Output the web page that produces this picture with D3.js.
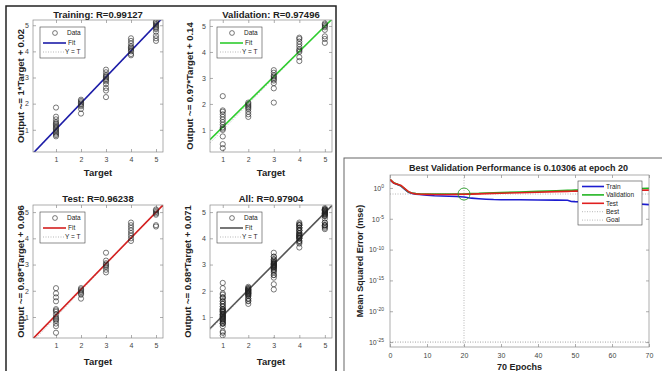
<!DOCTYPE html>
<html>
<head>
<meta charset="utf-8">
<script src="https://cdn.jsdelivr.net/npm/d3@7"></script>
<style>
  body { margin: 0; background: #fff; }
  svg { display: block; font-family: "Liberation Sans", Arial, sans-serif; }
</style>
</head>
<body>
<script>
// ---- data ----
const targets = [1, 2, 3, 4, 5];

// network outputs grouped by target value (one list per target)
const trainOut = [
  [0.75, 0.8, 0.85, 0.9, 0.95, 1.0, 1.05, 1.1, 1.15, 1.2, 1.25, 1.3, 1.4, 1.5, 1.85],
  [1.62, 1.8, 1.9, 1.95, 2.0, 2.05, 2.1, 2.15],
  [2.25, 2.5, 2.6, 2.75, 2.85, 2.9, 2.95, 3.0, 3.05, 3.1, 3.2, 3.3],
  [3.85, 3.9, 4.0, 4.05, 4.1, 4.15, 4.2, 4.3, 4.4, 4.5],
  [4.4, 4.5, 4.6, 4.75, 4.85, 4.9, 4.95, 5.0, 5.05, 5.1, 5.15]
];
const valOut = [
  [0.3, 0.45, 0.75, 1.0, 1.05, 1.1, 1.2, 1.3, 1.4, 1.5, 1.6, 1.7, 1.75, 2.3],
  [1.5, 1.6, 1.7, 1.8, 1.85, 1.9, 1.95, 2.0, 2.05],
  [2.05, 2.6, 2.8, 2.9, 2.95, 3.0, 3.05, 3.1, 3.2, 3.3],
  [3.65, 3.8, 4.0, 4.05, 4.1, 4.2, 4.3, 4.4, 4.5, 4.55],
  [4.35, 4.5, 4.6, 4.85, 4.95, 5.0, 5.05, 5.1]
];
const testOut = [
  [0.4, 0.65, 0.75, 0.85, 0.9, 0.95, 1.0, 1.1, 1.2, 1.25, 1.3, 1.6, 1.75, 1.9, 2.1],
  [1.7, 1.85, 1.9, 1.95, 2.0, 2.05, 2.1],
  [0.1, 2.7, 2.8, 2.9, 2.95, 3.0, 3.05, 3.15, 3.45],
  [3.9, 4.0, 4.1, 4.2, 4.3, 4.4, 4.5, 4.6],
  [4.45, 4.5, 4.9, 4.95, 5.0, 5.05, 5.1]
];
// "All" is the union of the three subsets
const allOut = targets.map((t, i) => trainOut[i].concat(valOut[i], testOut[i]));

const panelTitles = ["Training: R=0.99127", "Validation: R=0.97496", "Test: R=0.96238", "All: R=0.97904"];
const panelYLabels = ["Output ~= 1*Target + 0.02", "Output ~= 0.97*Target + 0.14",
                      "Output ~= 0.98*Target + 0.096", "Output ~= 0.98*Target + 0.071"];
const fitSlopes = [1, 0.97, 0.98, 0.98];
const fitIntercepts = [0.02, 0.14, 0.096, 0.071];

// performance curves (mse per epoch)
const epochs     = [0, 1, 2, 3, 4, 5, 6, 7, 8, 10, 12, 14, 16, 18, 20, 22, 24, 26, 28, 30, 35, 40, 45, 48, 49, 50, 55, 60, 65, 70];
const trainPerf  = [20, 6, 3.5, 2, 0.6, 0.2, 0.13, 0.1, 0.085, 0.065, 0.055, 0.05, 0.045, 0.04, 0.035, 0.022, 0.018, 0.015, 0.013, 0.012, 0.012, 0.011, 0.0105, 0.01, 0.0065, 0.006, 0.005, 0.004, 0.003, 0.002];
const valPerf    = [25, 7, 4, 2.2, 0.7, 0.22, 0.15, 0.12, 0.11, 0.1, 0.1, 0.1, 0.1, 0.1, 0.103, 0.12, 0.13, 0.15, 0.16, 0.18, 0.22, 0.28, 0.35, 0.4, 0.42, 0.45, 0.5, 0.6, 0.75, 0.9];
const testPerf   = [25, 6.5, 4, 2.5, 0.8, 0.25, 0.14, 0.11, 0.1, 0.09, 0.085, 0.085, 0.085, 0.09, 0.095, 0.1, 0.11, 0.12, 0.13, 0.14, 0.17, 0.2, 0.25, 0.28, 0.29, 0.3, 0.33, 0.38, 0.42, 0.45];
const bestEpoch = 20;
const bestPerf = 0.10306;
const goalPerf = 1e-25;
const perfTicks = [1, 1e-5, 1e-10, 1e-15, 1e-20, 1e-25];
const epochTicks = [0, 10, 20, 30, 40, 50, 60, 70];
const perfLegend = ["Train", "Validation", "Test", "Best", "Goal"];

// ---- layout ----
const WIDTH = 662, HEIGHT = 371;

let svg = d3.select("body").append("svg")
  .attr("width", WIDTH)
  .attr("height", HEIGHT);

svg.append("rect")
  .attr("width", WIDTH)
  .attr("height", HEIGHT)
  .attr("fill", "#fff");

// outer frames
svg.append("rect")
  .attr("x", 6).attr("y", 6)
  .attr("width", 330).attr("height", 380)
  .attr("fill", "none")
  .attr("stroke", "#222")
  .attr("stroke-width", 1.5);

svg.append("rect")
  .attr("x", 344).attr("y", 158)
  .attr("width", 340).attr("height", 240)
  .attr("fill", "none")
  .attr("stroke", "#666")
  .attr("stroke-width", 1);

let panels = [
  {x0: 33,  x1: 163, y0: 20,  y1: 152, xd: [0.08, 5.28], yd: [0.15, 5.2],  lx: 21,  ty: 18,  xl: 176, data: trainOut, color: "#1c1ca8"},
  {x0: 210, x1: 332, y0: 20,  y1: 152, xd: [0.5, 5.28],  yd: [0.15, 5.23], lx: 190, ty: 18,  xl: 176, data: valOut,   color: "#2ecc2e"},
  {x0: 33,  x1: 163, y0: 205, y1: 338, xd: [0.08, 5.28], yd: [0.2, 5.27],  lx: 21,  ty: 202, xl: 365, data: testOut,  color: "#d42020"},
  {x0: 210, x1: 332, y0: 205, y1: 338, xd: [0.5, 5.28],  yd: [0.2, 5.27],  lx: 188, ty: 202, xl: 365, data: allOut,   color: "#555555"}
];

panels.forEach((p, i) => drawRegression(p, i));
drawPerformance();

function drawRegression(p, i) {
  let x = d3.scaleLinear().domain(p.xd).range([p.x0, p.x1]);
  let y = d3.scaleLinear().domain(p.yd).range([p.y1, p.y0]);
  let fmt = d3.format("d");

  let g = svg.append("g").attr("class", "regPanel");

  g.append("clipPath")
    .attr("id", "clip" + i)
  .append("rect")
    .attr("x", p.x0).attr("y", p.y0)
    .attr("width", p.x1 - p.x0).attr("height", p.y1 - p.y0);

  g.append("rect")
    .attr("x", p.x0).attr("y", p.y0)
    .attr("width", p.x1 - p.x0).attr("height", p.y1 - p.y0)
    .attr("fill", "#fff");

  // axes (ticks pointing inwards, like matlab)
  g.append("g")
    .attr("transform", "translate(0," + p.y1 + ")")
    .call(d3.axisBottom(x).tickValues(targets).tickFormat(fmt).tickSizeInner(-3).tickSizeOuter(0).tickPadding(5));
  g.append("g")
    .attr("transform", "translate(0," + p.y0 + ")")
    .call(d3.axisTop(x).tickValues(targets).tickSizeInner(-3).tickSizeOuter(0).tickFormat(""));
  g.append("g")
    .attr("transform", "translate(" + p.x0 + ",0)")
    .call(d3.axisLeft(y).tickValues(targets).tickFormat(fmt).tickSizeInner(-3).tickSizeOuter(0).tickPadding(4));
  g.append("g")
    .attr("transform", "translate(" + p.x1 + ",0)")
    .call(d3.axisRight(y).tickValues(targets).tickSizeInner(-3).tickSizeOuter(0).tickFormat(""));

  g.selectAll(".domain").remove();
  g.selectAll(".tick line").attr("stroke", "#777").attr("stroke-width", 0.6);
  g.selectAll(".tick text").attr("fill", "#444").style("font-size", "7px");

  let plot = g.append("g").attr("clip-path", "url(#clip" + i + ")");

  // Y = T
  plot.append("line")
    .attr("x1", x(p.xd[0])).attr("y1", y(p.xd[0]))
    .attr("x2", x(p.xd[1])).attr("y2", y(p.xd[1]))
    .attr("stroke", "#888")
    .attr("stroke-width", 0.6)
    .attr("stroke-dasharray", "1,1.5");

  // fit line
  let fx = (v) => fitSlopes[i] * v + fitIntercepts[i];
  plot.append("line")
    .attr("x1", x(p.xd[0])).attr("y1", y(fx(p.xd[0])))
    .attr("x2", x(p.xd[1])).attr("y2", y(fx(p.xd[1])))
    .attr("stroke", p.color)
    .attr("stroke-width", 1.6);

  // data circles
  let pts = [];
  p.data.forEach((outs, k) => {
    outs.forEach(v => pts.push({t: targets[k], o: v}));
  });
  plot.selectAll(".pt")
    .data(pts)
  .enter().append("circle")
    .attr("class", "pt")
    .attr("cx", d => x(d.t))
    .attr("cy", d => y(d.o))
    .attr("r", 2.6)
    .attr("fill", "none")
    .attr("stroke", "#222")
    .attr("stroke-width", 0.6);

  g.append("rect")
    .attr("x", p.x0).attr("y", p.y0)
    .attr("width", p.x1 - p.x0).attr("height", p.y1 - p.y0)
    .attr("fill", "none")
    .attr("stroke", "#8a8a8a")
    .attr("stroke-width", 0.7);

  // legend
  let lg = g.append("g").attr("transform", "translate(" + (p.x0 + 7) + "," + (p.y0 + 7) + ")");
  lg.append("rect")
    .attr("width", 45).attr("height", 31)
    .attr("fill", "#fff")
    .attr("stroke", "#444")
    .attr("stroke-width", 0.6);
  lg.append("circle")
    .attr("cx", 15).attr("cy", 6).attr("r", 2.4)
    .attr("fill", "none").attr("stroke", "#222").attr("stroke-width", 0.6);
  lg.append("line")
    .attr("x1", 3).attr("x2", 26).attr("y1", 16).attr("y2", 16)
    .attr("stroke", p.color).attr("stroke-width", 1.6);
  lg.append("line")
    .attr("x1", 3).attr("x2", 24).attr("y1", 25).attr("y2", 25)
    .attr("stroke", "#888").attr("stroke-width", 0.6).attr("stroke-dasharray", "1,1.5");
  let legTxt = [["Data", 27, 8.3], ["Fit", 28, 18.3], ["Y = T", 25, 27.3]];
  legTxt.forEach(d => {
    lg.append("text")
      .attr("x", d[1]).attr("y", d[2])
      .style("font-size", "6.5px")
      .attr("fill", "#222")
      .text(d[0]);
  });

  // titles
  g.append("text")
    .attr("x", (p.x0 + p.x1) / 2).attr("y", p.ty)
    .attr("text-anchor", "middle")
    .style("font-size", "9.5px").style("font-weight", "bold")
    .attr("fill", "#222")
    .text(panelTitles[i]);

  g.append("text")
    .attr("x", (p.x0 + p.x1) / 2).attr("y", p.xl)
    .attr("text-anchor", "middle")
    .style("font-size", "9.5px").style("font-weight", "bold")
    .attr("fill", "#222")
    .text("Target");

  g.append("text")
    .attr("transform", "translate(" + (p.lx + 3) + "," + ((p.y0 + p.y1) / 2) + ") rotate(-90)")
    .attr("text-anchor", "middle")
    .style("font-size", "9.5px").style("font-weight", "bold")
    .attr("fill", "#222")
    .text(panelYLabels[i]);
}

function drawPerformance() {
  let x0 = 390, x1 = 649, y0 = 175, y1 = 347;
  let x = d3.scaleLinear().domain([0, 70]).range([x0, x1]);
  let y = d3.scaleLog().domain([Math.pow(10, -25.8), Math.pow(10, 2.1)]).range([y1, y0]);

  let g = svg.append("g").attr("class", "perf");

  g.append("clipPath")
    .attr("id", "clipPerf")
  .append("rect")
    .attr("x", x0).attr("y", y0)
    .attr("width", x1 - x0).attr("height", y1 - y0);

  g.append("g")
    .attr("transform", "translate(0," + y1 + ")")
    .call(d3.axisBottom(x).tickValues(epochTicks).tickSizeInner(-3).tickSizeOuter(0).tickPadding(6));
  g.append("g")
    .attr("transform", "translate(0," + y0 + ")")
    .call(d3.axisTop(x).tickValues(epochTicks).tickSizeInner(-3).tickSizeOuter(0).tickFormat(""));
  g.append("g")
    .attr("transform", "translate(" + x0 + ",0)")
    .call(d3.axisLeft(y).tickValues(perfTicks).tickSizeInner(-3).tickSizeOuter(0).tickPadding(6)
      .tickFormat(""))
    .selectAll(".tick text")
    .each(function(d) {
      let t = d3.select(this);
      t.text("10");
      t.append("tspan")
        .attr("dy", "-0.55em")
        .style("font-size", "5px")
        .text(Math.round(Math.log10(d)));
    });
  g.append("g")
    .attr("transform", "translate(" + x1 + ",0)")
    .call(d3.axisRight(y).tickValues(perfTicks).tickSizeInner(-3).tickSizeOuter(0).tickFormat(""));

  g.selectAll(".domain").remove();
  g.selectAll(".tick line").attr("stroke", "#777").attr("stroke-width", 0.6);
  g.selectAll(".tick text").attr("fill", "#444").style("font-size", "7px");

  let plot = g.append("g").attr("clip-path", "url(#clipPerf)");

  // best / goal markers
  plot.append("line")
    .attr("x1", x(bestEpoch)).attr("x2", x(bestEpoch))
    .attr("y1", y0).attr("y2", y1)
    .attr("stroke", "#999").attr("stroke-width", 0.7).attr("stroke-dasharray", "1,1.5");
  plot.append("line")
    .attr("x1", x0).attr("x2", x1)
    .attr("y1", y(bestPerf)).attr("y2", y(bestPerf))
    .attr("stroke", "#999").attr("stroke-width", 0.7).attr("stroke-dasharray", "1,1.5");
  plot.append("line")
    .attr("x1", x0).attr("x2", x1)
    .attr("y1", y(goalPerf)).attr("y2", y(goalPerf))
    .attr("stroke", "#777").attr("stroke-width", 0.7).attr("stroke-dasharray", "1,1.5");

  let line = d3.line()
    .x((d, k) => x(epochs[k]))
    .y(d => y(d));

  let series = [[trainPerf, "#1c1cd0"], [valPerf, "#22b522"], [testPerf, "#e02020"]];
  series.forEach(s => {
    plot.append("path")
      .datum(s[0])
      .attr("d", line)
      .attr("fill", "none")
      .attr("stroke", s[1])
      .attr("stroke-width", 1.6);
  });

  plot.append("circle")
    .attr("cx", x(bestEpoch)).attr("cy", y(bestPerf))
    .attr("r", 6)
    .attr("fill", "none")
    .attr("stroke", "#2a9a2a")
    .attr("stroke-width", 0.9);

  g.append("rect")
    .attr("x", x0).attr("y", y0)
    .attr("width", x1 - x0).attr("height", y1 - y0)
    .attr("fill", "none")
    .attr("stroke", "#8a8a8a")
    .attr("stroke-width", 0.7);

  // legend
  let lg = g.append("g").attr("transform", "translate(578,181)");
  lg.append("rect")
    .attr("width", 64).attr("height", 44)
    .attr("fill", "#fff")
    .attr("stroke", "#444")
    .attr("stroke-width", 0.6);
  let legStyle = [
    {c: "#1c1cd0", w: 1.6, dash: null},
    {c: "#22b522", w: 1.6, dash: null},
    {c: "#e02020", w: 1.6, dash: null},
    {c: "#888", w: 0.6, dash: "1,1.5"},
    {c: "#888", w: 0.6, dash: "1,1.5"}
  ];
  perfLegend.forEach((name, k) => {
    let yy = 5.5 + k * 8.4;
    lg.append("line")
      .attr("x1", 4).attr("x2", 26).attr("y1", yy).attr("y2", yy)
      .attr("stroke", legStyle[k].c)
      .attr("stroke-width", legStyle[k].w)
      .attr("stroke-dasharray", legStyle[k].dash);
    lg.append("text")
      .attr("x", 28).attr("y", yy + 2.3)
      .style("font-size", "6.5px")
      .attr("fill", "#222")
      .text(name);
  });

  g.append("text")
    .attr("x", (x0 + x1) / 2 - 1).attr("y", 171)
    .attr("text-anchor", "middle")
    .style("font-size", "9px").style("font-weight", "bold")
    .attr("fill", "#222")
    .text("Best Validation Performance is 0.10306 at epoch 20");

  g.append("text")
    .attr("x", (x0 + x1) / 2).attr("y", 370)
    .attr("text-anchor", "middle")
    .style("font-size", "9px").style("font-weight", "bold")
    .attr("fill", "#222")
    .text("70 Epochs");

  g.append("text")
    .attr("transform", "translate(363," + ((y0 + y1) / 2) + ") rotate(-90)")
    .attr("text-anchor", "middle")
    .style("font-size", "9px").style("font-weight", "bold")
    .attr("fill", "#222")
    .text("Mean Squared Error  (mse)");
}
</script>
</body>
</html>
